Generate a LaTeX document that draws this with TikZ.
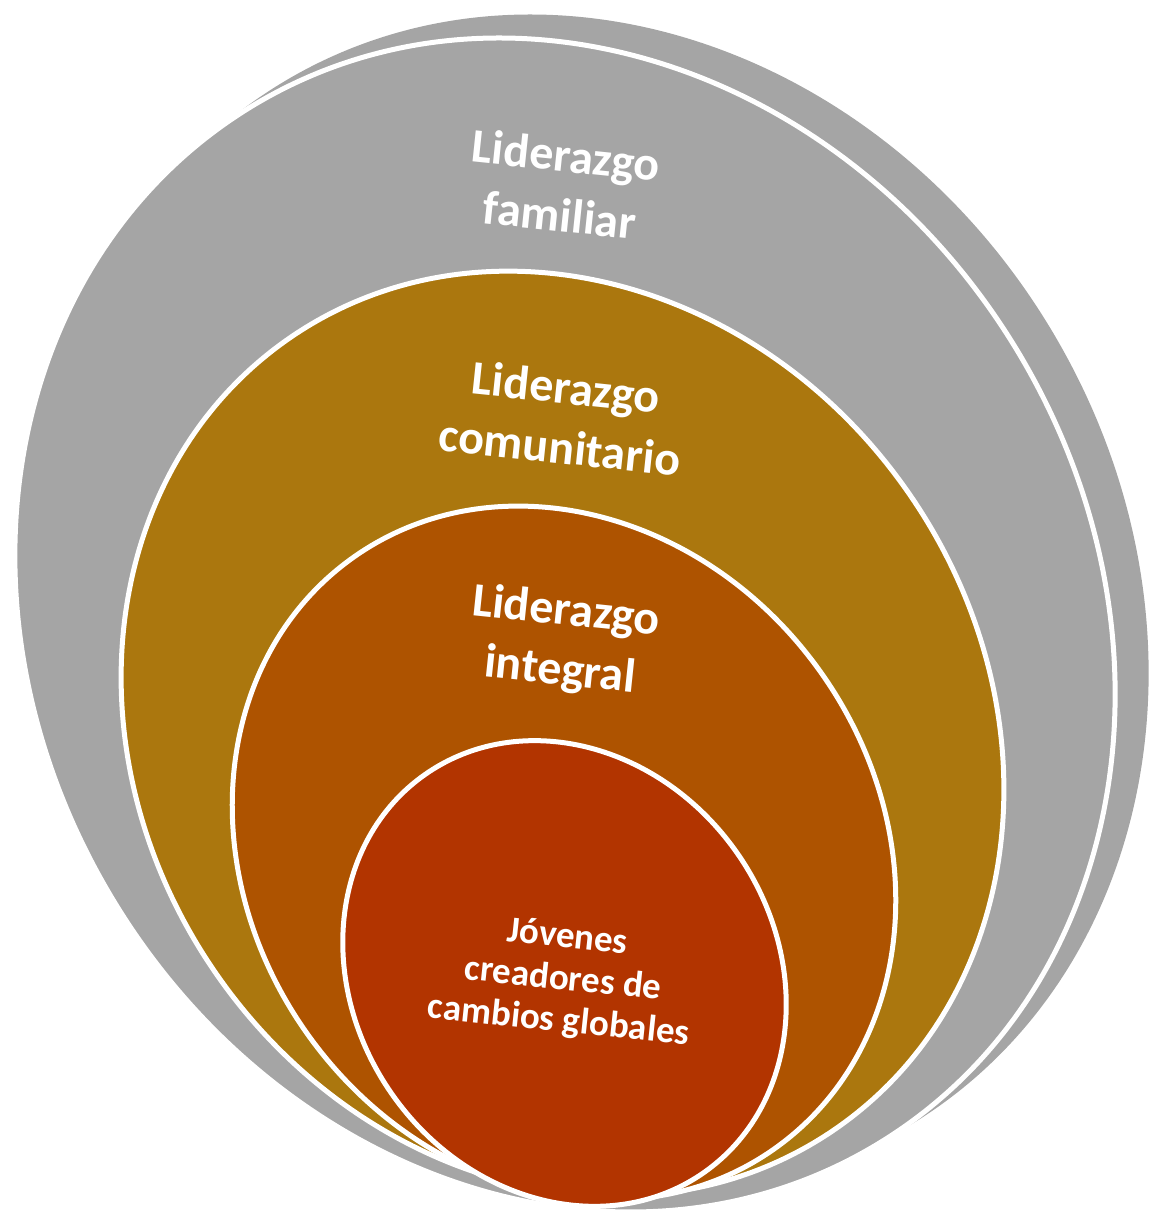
\documentclass[tikz,border=0pt]{standalone}
\usepackage{fontspec}
\setmainfont{Carlito}
\definecolor{greyring}{HTML}{A5A5A5}
\definecolor{goldring}{HTML}{AB770E}
\definecolor{orangering}{HTML}{AE5300}
\definecolor{redring}{HTML}{B23400}
\tikzset{
  ring/.style={draw=white, line width=5pt},
  bigtext/.style={text=white, font=\bfseries\fontsize{48}{60}\selectfont, align=center, rotate=-6, inner sep=0pt},
  smalltext/.style={text=white, font=\bfseries\fontsize{37}{42}\selectfont, align=center, rotate=-6, inner sep=0pt}
}
\begin{document}
\begin{tikzpicture}[x=1pt,y=1pt]
\useasboundingbox (0,0) rectangle (1149,1212);
% back grey crescent
\fill[greyring, rotate around={30.7:(596,608)}] (596,608) ellipse [x radius=531.5, y radius=608.5];
% front grey
\filldraw[ring, fill=greyring, rotate around={30.7:(565,587)}] (565,587) ellipse [x radius=529, y radius=606];
% gold
\filldraw[ring, fill=goldring, rotate around={34.6:(562.5,478.5)}] (562.5,478.5) ellipse [x radius=421.5, y radius=480.5];
% orange
\filldraw[ring, fill=orangering, rotate around={36:(564,359)}] (564,359) ellipse [x radius=314, y radius=363];
% red
\filldraw[ring, fill=redring, rotate around={35:(564.5,238.5)}] (564.5,238.5) ellipse [x radius=210.5, y radius=243];
% labels
\node[bigtext] (fam) at (563,1027) {Liderazgo\\familiar};
\node[bigtext] (com) at (563,795) {Liderazgo\\comunitario};
\node[bigtext] (int) at (563,570) {Liderazgo\\integral};
\node[smalltext] (jov) at (563,232) {Jóvenes\\creadores de\\cambios globales};
\end{tikzpicture}
\end{document}
